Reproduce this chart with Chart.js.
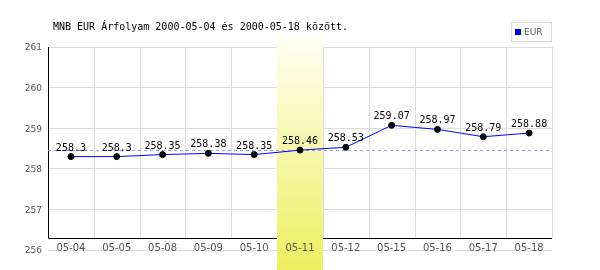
<!DOCTYPE html>
<html>
<head>
<meta charset="utf-8">
<script src="https://cdn.jsdelivr.net/npm/chart.js@4.4.0/dist/chart.umd.min.js"></script>
<style>
  html, body { margin: 0; padding: 0; background: #fff; }
  #wrap { width: 600px; height: 270px; }
</style>
</head>
<body>
<div id="wrap"><canvas id="rateChart" width="600" height="270"></canvas></div>
<script>
// Adatok (MNB EUR árfolyam)
const titleText = 'MNB EUR Árfolyam 2000-05-04 és 2000-05-18 között.';
const seriesLabel = 'EUR';
const dates = ['05-04', '05-05', '05-08', '05-09', '05-10', '05-11', '05-12', '05-15', '05-16', '05-17', '05-18'];
const rates = [258.3, 258.3, 258.35, 258.38, 258.35, 258.46, 258.53, 259.07, 258.97, 258.79, 258.88];
const yTicks = [256, 257, 258, 259, 260, 261];
const highlightDate = '05-11';

const AXIS_GAP = 12; // the black x axis sits a bit above the lowest gridline
const GRID = '#dcdcdc';
const MONO = '"DejaVu Sans Mono", monospace';
const SANS = '"DejaVu Sans", sans-serif';

const decorPlugin = {
  id: 'decor',
  beforeDatasetsDraw(chart) {
    const { ctx, chartArea: a, scales: { x, y } } = chart;
    const half = (x.getPixelForValue(1) - x.getPixelForValue(0)) / 2;
    const axisY = Math.round(a.bottom - AXIS_GAP) + 0.5;
    ctx.save();

    // vertical grid lines between categories
    ctx.strokeStyle = GRID;
    ctx.lineWidth = 1;
    for (let i = 0; i <= dates.length; i++) {
      const px = Math.round(x.getPixelForValue(i) - half) + 0.5;
      ctx.beginPath();
      ctx.moveTo(px, a.top);
      ctx.lineTo(px, axisY);
      ctx.stroke();
    }

    // black axes
    ctx.strokeStyle = '#000';
    ctx.beginPath();
    ctx.moveTo(a.left + 0.5, a.top);
    ctx.lineTo(a.left + 0.5, axisY);
    ctx.lineTo(a.right, axisY);
    ctx.stroke();

    // highlighted day band
    const hi = dates.indexOf(highlightDate);
    const cx = x.getPixelForValue(hi);
    const top = a.top - 12;
    const grad = ctx.createLinearGradient(0, top, 0, chart.height);
    grad.addColorStop(0, '#fffff4');
    grad.addColorStop(1, '#eeee60');
    ctx.fillStyle = grad;
    ctx.fillRect(Math.round(cx - half), top, Math.round(half * 2), chart.height - top);

    // dashed reference line at the highlighted day's rate
    const ry = Math.round(y.getPixelForValue(rates[hi])) + 0.5;
    ctx.strokeStyle = '#9999ff';
    ctx.setLineDash([3, 3]);
    ctx.beginPath();
    ctx.moveTo(a.left, ry);
    ctx.lineTo(a.right, ry);
    ctx.stroke();
    ctx.restore();
  },
  afterDatasetsDraw(chart) {
    const { ctx } = chart;
    const meta = chart.getDatasetMeta(0);
    ctx.save();
    ctx.font = '10px ' + MONO;
    ctx.fillStyle = '#000';
    ctx.textAlign = 'center';
    ctx.textBaseline = 'alphabetic';
    meta.data.forEach((pt, i) => {
      ctx.fillText(String(rates[i]), pt.x, pt.y - 6);
    });
    ctx.restore();
  },
  afterDraw(chart) {
    const { ctx } = chart;
    const ds = chart.data.datasets[0];
    ctx.save();
    // title
    ctx.font = '10px ' + MONO;
    ctx.fillStyle = '#000';
    ctx.textAlign = 'left';
    ctx.textBaseline = 'alphabetic';
    ctx.fillText(titleText, 53, 30);

    // legend box
    ctx.strokeStyle = GRID;
    ctx.lineWidth = 1;
    ctx.strokeRect(511.5, 22.5, 40, 19);
    ctx.fillStyle = ds.borderColor;
    ctx.fillRect(515, 29, 6, 6);
    ctx.strokeStyle = '#000080';
    ctx.strokeRect(515.5, 29.5, 5, 5);
    ctx.font = '9px ' + SANS;
    ctx.fillStyle = '#555';
    ctx.textBaseline = 'middle';
    ctx.fillText(ds.label, 524, 33);
    ctx.restore();
  }
};

new Chart(document.getElementById('rateChart').getContext('2d'), {
  type: 'line',
  data: {
    labels: dates,
    datasets: [
      {
        label: seriesLabel,
        data: rates,
        borderColor: '#0000ff',
        borderWidth: 1,
        tension: 0,
        pointRadius: 3,
        pointBorderWidth: 1,
        pointBackgroundColor: '#000',
        pointBorderColor: '#000',
        fill: false,
      },
    ],
  },
  options: {
    responsive: false,
    devicePixelRatio: 1,
    animation: false,
    layout: { padding: { top: 47, right: 48, left: 0, bottom: 0 } },
    scales: {
      x: {
        offset: true,
        grid: { display: false, drawTicks: false },
        border: { display: false },
        ticks: {
          z: 1,
          mirror: true, // lets the labels sit on the lowest gridline without clipping
          padding: -4,
          color: '#555',
          font: { family: SANS, size: 10 },
          maxRotation: 0,
          autoSkip: false,
        },
        afterFit: (s) => { s.height = 20; },
      },
      y: {
        min: yTicks[0],
        max: yTicks[yTicks.length - 1],
        grid: { color: GRID, drawTicks: false },
        border: { display: false },
        ticks: {
          stepSize: 1,
          padding: 6,
          labelOffset: 1,
          color: '#555',
          font: { family: SANS, size: 9 },
        },
        afterBuildTicks: (s) => { s.ticks = yTicks.map((v) => ({ value: v })); },
        afterFit: (s) => { s.width = 48; },
      },
    },
    plugins: {
      legend: { display: false },
      tooltip: { enabled: false },
    },
  },
  plugins: [decorPlugin],
});
</script>
</body>
</html>
